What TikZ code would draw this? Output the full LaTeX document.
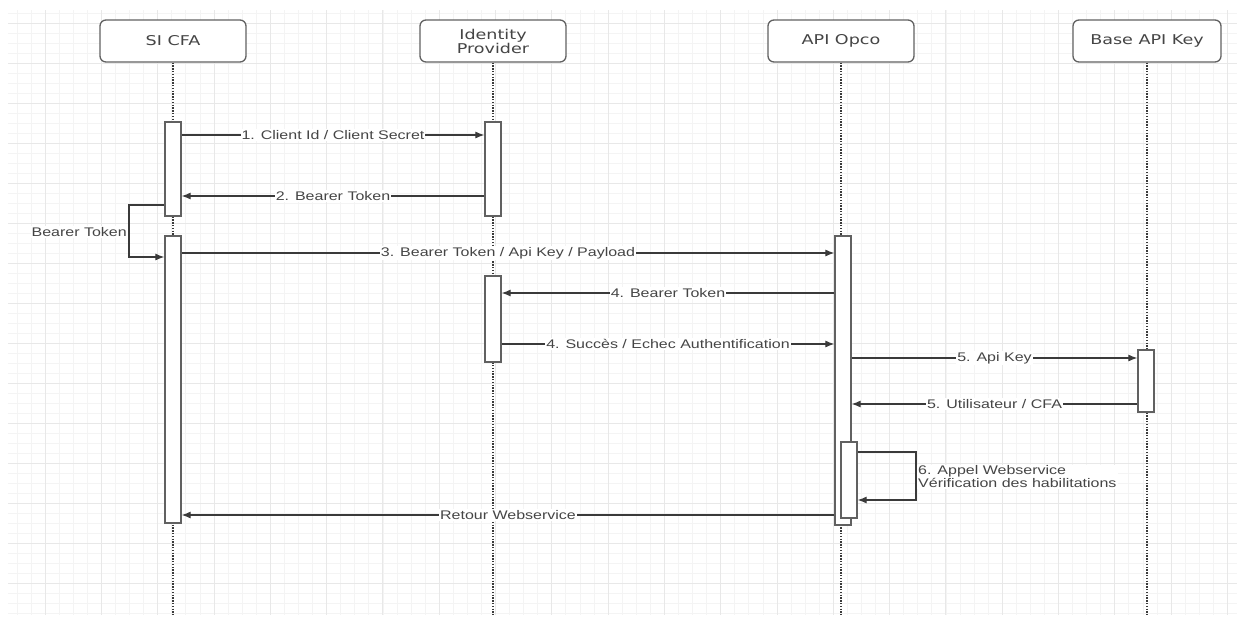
\documentclass[tikz,border=0pt]{standalone}
\usepackage{fontspec}
\setmainfont[FakeStretch=1.28]{Liberation Sans}
\newfontfamily\headfont[FakeStretch=1.3]{DejaVu Sans}
\usepackage{tikz}
\usetikzlibrary{arrows.meta,positioning}
\definecolor{seqline}{HTML}{3A3A3A}
\definecolor{seqtext}{HTML}{454545}
\definecolor{gridmajor}{HTML}{E8E8E8}
\definecolor{gridminor}{HTML}{F4F4F4}
\tikzset{
  actor/.style={draw=seqline!80, rounded corners=6pt, fill=white, line width=1.3pt, minimum width=146pt, minimum height=42pt, align=center, font=\headfont\fontsize{13.5}{14}\selectfont, text=seqtext},
  actbar/.style={draw=seqline!80, fill=white, line width=1.3pt, minimum width=16pt, inner sep=0pt},
  lifeline/.style={draw=seqline, line width=1.2pt, dash pattern=on 1.4pt off 1.4pt},
  msg/.style={-{Latex[length=9pt,width=7pt]}, line width=1.1pt, draw=seqline},
  lbl/.style={fill=white, inner sep=1pt, font=\fontsize{12.5}{13}\selectfont, text=seqtext}
}

\begin{document}
\begin{tikzpicture}[x=1pt, y=-1pt]
  \useasboundingbox (0,0) rectangle (1237,619);

  % background grid
  \foreach \gx in {0,...,86} \draw[gridminor, line width=0.6pt] ({16.85+14.075*\gx},10) -- ({16.85+14.075*\gx},615);
  \foreach \gy in {0,...,60} \draw[gridminor, line width=0.6pt] (8,{13+10*\gy}) -- (1237,{13+10*\gy});
  \foreach \gx in {0,...,21} \draw[gridmajor, line width=0.8pt] ({45+56.3*\gx},10) -- ({45+56.3*\gx},615);
  \foreach \gy in {0,...,14} \draw[gridmajor, line width=0.8pt] (8,{23+40*\gy}) -- (1237,{23+40*\gy});

  % participants
  \node[actor] (sicfa) at (173,41) {SI CFA};
  \node[actor] (idp) at (493,41) {Identity\\Provider};
  \node[actor] (opco) at (841,41) {API Opco};
  \node[actor, minimum width=148pt] (apikey) at (1147,41) {Base API Key};

  \draw[lifeline] (sicfa) -- (sicfa |- 0,615);
  \draw[lifeline] (idp) -- (idp |- 0,615);
  \draw[lifeline] (opco) -- (opco |- 0,615);
  \draw[lifeline] (apikey) -- (apikey |- 0,615);

  % activations
  \node[actbar, minimum height=94pt] (cfa1) at (173,169) {};
  \node[actbar, minimum height=287pt] (cfa2) at (173,379.5) {};
  \node[actbar, minimum height=94pt] (idp1) at (493,169) {};
  \node[actbar, minimum height=86pt] (idp2) at (493,319) {};
  \node[actbar, minimum height=289pt] (opco1) at (843,380.5) {};
  \node[actbar, minimum height=76pt] (opco2) at (849,480) {};
  \node[actbar, minimum height=62pt] (key1) at (1146,381) {};

  % messages
  \draw[msg] (cfa1.east |- 0,135) -- (idp1.west |- 0,135) node[lbl, midway] {1. Client Id / Client Secret};
  \draw[msg] (idp1.west |- 0,196) -- (cfa1.east |- 0,196) node[lbl, midway] {2. Bearer Token};
  \draw[msg] (cfa1.west |- 0,205) -| (129,231) |- (cfa2.west |- 0,257);
  \node[lbl, anchor=east] (selftoken) at (128,232) {Bearer Token};
  \draw[msg] (cfa2.east |- 0,253) -- (opco1.west |- 0,253) node[lbl, midway] {3. Bearer Token / Api Key / Payload};
  \draw[msg] (opco1.west |- 0,293) -- (idp2.east |- 0,293) node[lbl, midway] {4. Bearer Token};
  \draw[msg] (idp2.east |- 0,344) -- (opco1.west |- 0,344) node[lbl, midway] {4. Succès / Echec Authentification};
  \draw[msg] (opco1.east |- 0,358) -- (key1.west |- 0,358) node[lbl, midway] {5. Api Key};
  \draw[msg] (key1.west |- 0,404) -- (opco1.east |- 0,404) node[lbl, midway] {5. Utilisateur / CFA};
  \draw[msg] (opco2.east |- 0,452) -| (916,476) |- (opco2.east |- 0,500);
  \node[lbl, anchor=west, align=left] (selfcheck) at (917,477) {6. Appel Webservice\\Vérification des habilitations};
  \draw[msg] (opco1.west |- 0,515) -- (cfa2.east |- 0,515) node[lbl, midway] {Retour Webservice};
\end{tikzpicture}
\end{document}
